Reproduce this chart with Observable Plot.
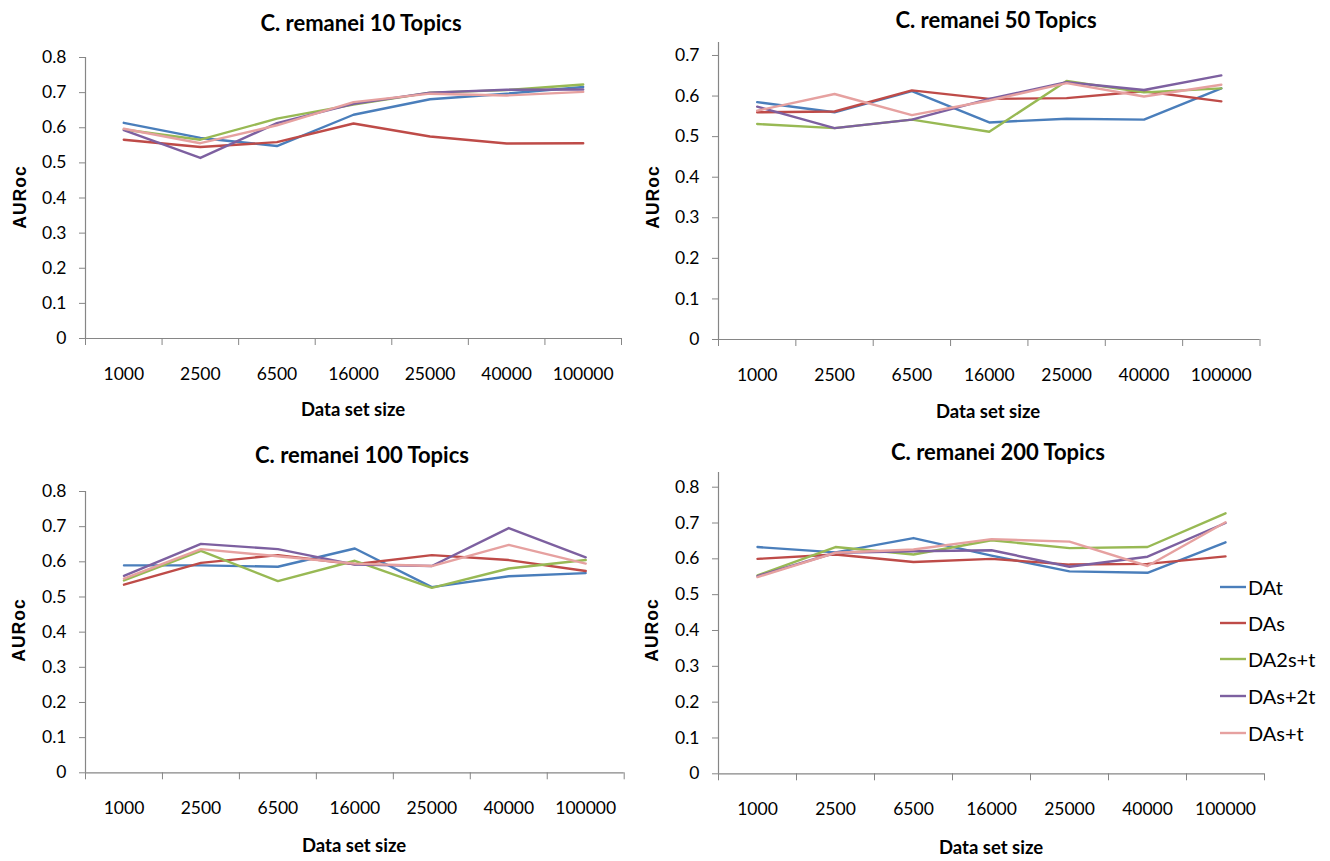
<!DOCTYPE html>
<html>
<head>
<meta charset="utf-8">
<script src="https://cdn.jsdelivr.net/npm/d3@7"></script>
<script src="https://cdn.jsdelivr.net/npm/@observablehq/plot@0.6"></script>
<style>
  html, body { margin: 0; padding: 0; background: #fff; }
  #chart { position: relative; width: 1330px; height: 861px; overflow: hidden; font-family: Lato, "Open Sans", sans-serif; color: #000; }
  .panel { position: absolute; }
  .lbl { position: absolute; transform: translate(-50%, -50%); white-space: nowrap; }
  .title { font: bold 22px Lato, sans-serif; }
  .xtitle { font: bold 18.5px Lato, sans-serif; }
  .ytitle { font: bold 17.5px "Liberation Sans", Arial, sans-serif; letter-spacing: 1px; transform: translate(-50%, -50%) rotate(-90deg); }
  .legend { position: absolute; left: 1220px; top: 0; font: 20px Lato, sans-serif; }
  .legend div { position: absolute; left: 0; display: flex; align-items: center; transform: translateY(-50%); white-space: nowrap; }
  .legend svg { margin-right: 2px; }
</style>
</head>
<body>
<div id="chart"></div>
<script>
// Data set sizes along the x axis
const sizes = ["1000", "2500", "6500", "16000", "25000", "40000", "100000"];

// Feature sets, in drawing order, with their line colours
const seriesNames = ["DAt", "DAs", "DA2s+t", "DAs+2t", "DAs+t"];
const seriesColors = ["#4A7EBB", "#BE4B48", "#98B954", "#7D60A0", "#E6A1A0"];

// AURoc per feature set (rows follow seriesNames), one array per topic count
const topics10 = [
  [0.614, 0.571, 0.548, 0.637, 0.681, 0.697, 0.716],
  [0.566, 0.545, 0.559, 0.612, 0.575, 0.555, 0.556],
  [0.595, 0.566, 0.626, 0.666, 0.700, 0.707, 0.723],
  [0.593, 0.514, 0.613, 0.668, 0.700, 0.708, 0.709],
  [0.597, 0.556, 0.607, 0.673, 0.697, 0.692, 0.702]
];
const topics50 = [
  [0.585, 0.560, 0.612, 0.535, 0.544, 0.542, 0.619],
  [0.560, 0.562, 0.614, 0.593, 0.595, 0.612, 0.587],
  [0.531, 0.521, 0.542, 0.512, 0.637, 0.609, 0.619],
  [0.574, 0.521, 0.542, 0.593, 0.634, 0.615, 0.651],
  [0.564, 0.605, 0.553, 0.589, 0.632, 0.599, 0.628]
];
const topics100 = [
  [0.590, 0.590, 0.586, 0.638, 0.528, 0.559, 0.568],
  [0.535, 0.597, 0.619, 0.593, 0.619, 0.605, 0.574],
  [0.547, 0.631, 0.545, 0.603, 0.526, 0.581, 0.605],
  [0.560, 0.651, 0.636, 0.592, 0.588, 0.696, 0.613],
  [0.552, 0.636, 0.616, 0.595, 0.588, 0.648, 0.595]
];
const topics200 = [
  [0.633, 0.618, 0.658, 0.609, 0.565, 0.561, 0.646],
  [0.600, 0.612, 0.591, 0.600, 0.584, 0.586, 0.607],
  [0.554, 0.633, 0.612, 0.652, 0.630, 0.633, 0.727],
  [0.552, 0.617, 0.621, 0.624, 0.578, 0.606, 0.700],
  [0.549, 0.617, 0.626, 0.655, 0.648, 0.580, 0.702]
];

// Y tick values shown on each panel
const ticks08 = [0, 0.1, 0.2, 0.3, 0.4, 0.5, 0.6, 0.7, 0.8];
const ticks07 = [0, 0.1, 0.2, 0.3, 0.4, 0.5, 0.6, 0.7];

const axisGrey = "#868686";
const root = document.getElementById("chart");

function addLabel(cls, text, x, y) {
  const d = document.createElement("div");
  d.className = "lbl " + cls;
  d.textContent = text;
  d.style.left = x + "px";
  d.style.top = y + "px";
  root.appendChild(d);
}

function panel(p) {
  const rows = [];
  p.values.forEach((vals, s) => vals.forEach((v, i) => rows.push({series: seriesNames[s], idx: i + 0.5, value: v})));
  const fmt = d => String(+d.toFixed(1));
  const plot = Plot.plot({
    width: p.width, height: p.height,
    marginLeft: p.ml, marginRight: p.mr, marginTop: p.mt, marginBottom: p.mb,
    style: {fontFamily: "Lato, sans-serif", fontSize: "17.5px", color: "#000", background: "transparent", overflow: "visible"},
    x: {type: "linear", domain: [0, sizes.length]},
    y: {domain: [0, p.ymax]},
    color: {domain: seriesNames, range: seriesColors},
    marks: [
      Plot.ruleY([0], {stroke: axisGrey, strokeWidth: 1.2}),
      Plot.ruleX([0], {stroke: axisGrey, strokeWidth: 1.2}),
      // boundary ticks between categories
      Plot.axisX(d3.range(sizes.length + 1), {tickSize: 7, tickFormat: () => "", stroke: axisGrey, label: null}),
      // category labels centred in each band
      Plot.axisX(d3.range(sizes.length).map(i => i + 0.5), {tickSize: 0, tickPadding: 29, tickFormat: d => sizes[Math.floor(d)], fill: "#000", label: null}),
      Plot.axisY(p.ticks, {tickSize: 6, tickPadding: 13, tickFormat: fmt, stroke: axisGrey, fill: "#000", label: null}),
      Plot.line(rows, {x: "idx", y: "value", z: "series", stroke: "series", strokeWidth: 2.4, strokeLinejoin: "round"})
    ]
  });
  plot.classList.add("panel");
  plot.style.left = p.left + "px";
  plot.style.top = p.top + "px";
  root.appendChild(plot);

  addLabel("title", p.title, p.titlePos[0], p.titlePos[1]);
  addLabel("xtitle", "Data set size", p.xtitlePos[0], p.xtitlePos[1]);
  addLabel("ytitle", "AURoc", p.ytitlePos[0], p.ytitlePos[1]);
}

panel({title: "C. remanei 10 Topics", values: topics10, ticks: ticks08, ymax: 0.8,
  left: 0, top: 30, width: 640, height: 400, ml: 85, mr: 19, mt: 27, mb: 92,
  titlePos: [361, 22], xtitlePos: [353, 409], ytitlePos: [20, 197]});
panel({title: "C. remanei 50 Topics", values: topics50, ticks: ticks07, ymax: 0.732,
  left: 660, top: 30, width: 640, height: 400, ml: 58, mr: 40.5, mt: 12, mb: 91,
  titlePos: [996, 19], xtitlePos: [988, 411], ytitlePos: [653, 197]});
panel({title: "C. remanei 100 Topics", values: topics100, ticks: ticks08, ymax: 0.8,
  left: 0, top: 460, width: 640, height: 400, ml: 85, mr: 16.3, mt: 31, mb: 87.7,
  titlePos: [362, 454], xtitlePos: [354, 845], ytitlePos: [19, 630]});
panel({title: "C. remanei 200 Topics", values: topics200, ticks: ticks08, ymax: 0.841,
  left: 660, top: 460, width: 640, height: 400, ml: 58, mr: 36, mt: 12, mb: 86.7,
  titlePos: [998, 451], xtitlePos: [991, 847], ytitlePos: [652, 630]});

// Legend beside the 200-topic panel
const legend = document.createElement("div");
legend.className = "legend";
const legendRows = [587, 623, 659, 696, 733];
seriesNames.forEach((name, i) => {
  const row = document.createElement("div");
  row.style.top = legendRows[i] + "px";
  row.innerHTML = `<svg width="26" height="6"><line x1="0" x2="26" y1="3" y2="3" stroke="${seriesColors[i]}" stroke-width="2.4"/></svg><span>${name}</span>`;
  legend.appendChild(row);
});
root.appendChild(legend);
</script>
</body>
</html>
